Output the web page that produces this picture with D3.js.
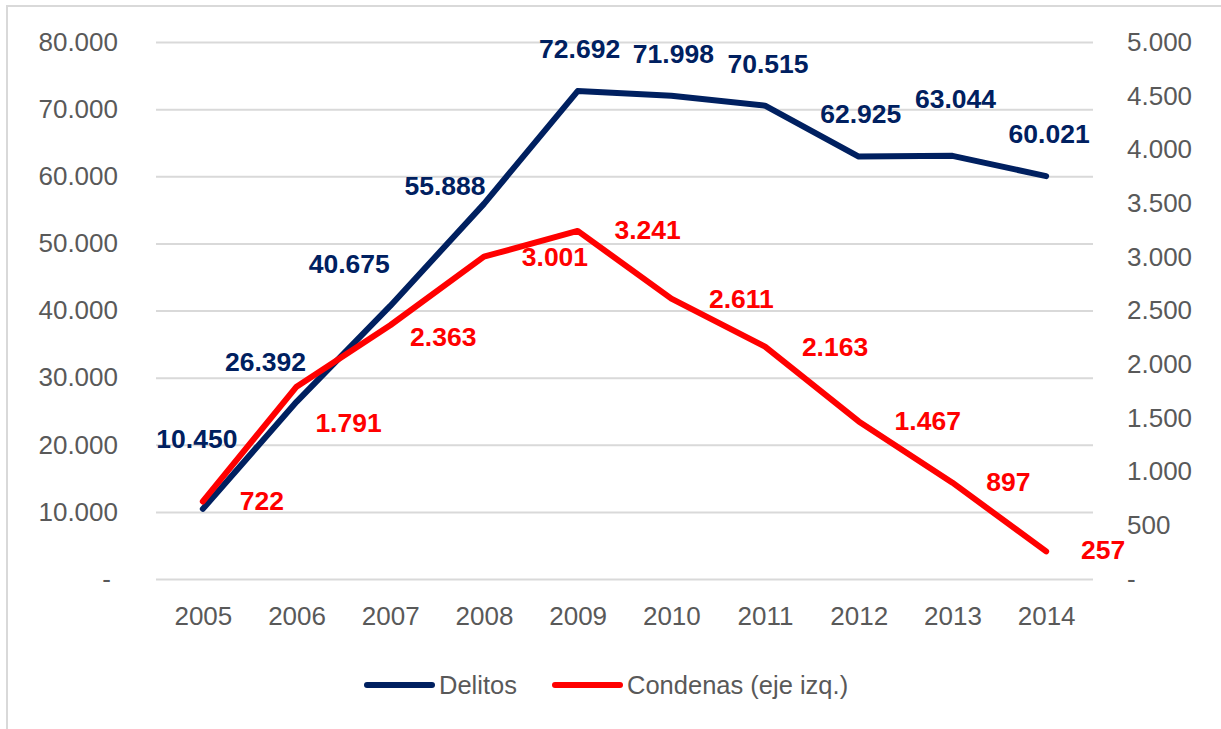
<!DOCTYPE html>
<html>
<head>
<meta charset="utf-8">
<script src="https://cdn.jsdelivr.net/npm/d3@7"></script>
<style>
  body { margin: 0; background: #fff; }
  text { font-family: "Liberation Sans", Arial, sans-serif; }
  .tick text { fill: #595959; font-size: 26px; }
  .grid line { stroke: #d9d9d9; stroke-width: 2px; }
  .value { font-size: 26.5px; font-weight: bold; }
</style>
</head>
<body>
<svg id="chart" width="1221" height="729"></svg>
<script>
// Delitos vs condenas, 2005-2014 (condenas on the right-hand axis)

var years = [ '2005', '2006', '2007', '2008', '2009', '2010', '2011', '2012', '2013', '2014' ];
var delitos = [ 10450, 26392, 40675, 55888, 72692, 71998, 70515, 62925, 63044, 60021 ];
var condenas = [ 722, 1791, 2363, 3001, 3241, 2611, 2163, 1467, 897, 257 ];
var seriesNames = [ 'Delitos', 'Condenas (eje izq.)' ];

// label placement relative to each point (dx, dy of text centre)
var delitosLabelOffset = [ [ -6, -70 ], [ -31, -40 ], [ -41, -42 ], [ -39, -18 ], [ 2, -42 ],
  [ 2, -42 ], [ 3, -42 ], [ 2, -43 ], [ 3, -57 ], [ 3, -42 ] ];
var condenasLabelOffset = [ [ 59, 0 ], [ 52, 36 ], [ 53, 12 ], [ 71, 0 ], [ 70, -1 ],
  [ 70, 0 ], [ 70, 0 ], [ 69, 0 ], [ 56, -1 ], [ 57, -1 ] ];

var navy = '#002060';
var red = '#ff0000';

var svg = d3.select( '#chart' );

var margin = { top: 42, right: 128, bottom: 150, left: 156 };
var width = 1221 - margin.left - margin.right;
var height = 729 - margin.top - margin.bottom;

// chart frame (only top and left edges are visible in the crop)
svg.append( 'rect' )
  .attr( 'x', 7 ).attr( 'y', 6 )
  .attr( 'width', 1240 ).attr( 'height', 760 )
  .attr( 'fill', 'none' )
  .attr( 'stroke', '#d9d9d9' )
  .attr( 'stroke-width', 2 );

var es = d3.formatLocale( { decimal: ',', thousands: '.', grouping: [ 3 ], currency: [ '', '' ] } );
var fmt = es.format( ',d' );
var tickFmt = function( d ) { return d === 0 ? '-' : fmt( d ); };

var x = d3.scalePoint().domain( years ).range( [ 0, width ] ).padding( 0.5 );
var yLeft = d3.scaleLinear().domain( [ 0, 80000 ] ).range( [ height, 0 ] );
var yRight = d3.scaleLinear().domain( [ 0, 5000 ] ).range( [ height, 0 ] );

var g = svg.append( 'g' )
  .attr( 'transform', 'translate(' + margin.left + ',' + margin.top + ')' );

// gridlines
g.append( 'g' )
  .attr( 'class', 'grid' )
  .call( d3.axisLeft( yLeft ).ticks( 8 ).tickSize( -width ).tickFormat( '' ) )
  .call( function( s ) { s.select( '.domain' ).remove(); } );

// left axis
var leftAxis = g.append( 'g' )
  .call( d3.axisLeft( yLeft ).ticks( 8 ).tickSize( 0 ).tickPadding( 38 ).tickFormat( tickFmt ) );
leftAxis.select( '.domain' ).remove();
leftAxis.selectAll( '.tick text' )
  .attr( 'dx', function( d ) { return d === 0 ? -7 : 0; } );

// right axis
var rightAxis = g.append( 'g' )
  .attr( 'transform', 'translate(' + width + ',0)' )
  .call( d3.axisRight( yRight ).ticks( 10 ).tickSize( 0 ).tickPadding( 34 ).tickFormat( tickFmt ) );
rightAxis.select( '.domain' ).remove();

// x axis
var xAxis = g.append( 'g' )
  .attr( 'transform', 'translate(0,' + height + ')' )
  .call( d3.axisBottom( x ).tickSize( 0 ).tickPadding( 28 ) );
xAxis.select( '.domain' ).remove();

// lines
var delitosLine = d3.line()
  .x( function( d, i ) { return x( years[ i ] ); } )
  .y( function( d ) { return yLeft( d ); } );

var condenasLine = d3.line()
  .x( function( d, i ) { return x( years[ i ] ); } )
  .y( function( d ) { return yRight( d ); } );

g.append( 'path' )
  .datum( delitos )
  .attr( 'd', delitosLine )
  .attr( 'fill', 'none' )
  .attr( 'stroke', navy )
  .attr( 'stroke-width', 6 )
  .attr( 'stroke-linejoin', 'round' )
  .attr( 'stroke-linecap', 'round' );

g.append( 'path' )
  .datum( condenas )
  .attr( 'd', condenasLine )
  .attr( 'fill', 'none' )
  .attr( 'stroke', red )
  .attr( 'stroke-width', 6 )
  .attr( 'stroke-linejoin', 'round' )
  .attr( 'stroke-linecap', 'round' );

// data labels
g.selectAll( '.delitos-label' )
  .data( delitos )
  .enter().append( 'text' )
  .attr( 'class', 'value delitos-label' )
  .attr( 'fill', navy )
  .attr( 'text-anchor', 'middle' )
  .attr( 'dominant-baseline', 'central' )
  .attr( 'x', function( d, i ) { return x( years[ i ] ) + delitosLabelOffset[ i ][ 0 ]; } )
  .attr( 'y', function( d, i ) { return yLeft( d ) + delitosLabelOffset[ i ][ 1 ]; } )
  .text( function( d ) { return fmt( d ); } );

g.selectAll( '.condenas-label' )
  .data( condenas )
  .enter().append( 'text' )
  .attr( 'class', 'value condenas-label' )
  .attr( 'fill', red )
  .attr( 'text-anchor', 'middle' )
  .attr( 'dominant-baseline', 'central' )
  .attr( 'x', function( d, i ) { return x( years[ i ] ) + condenasLabelOffset[ i ][ 0 ]; } )
  .attr( 'y', function( d, i ) { return yRight( d ) + condenasLabelOffset[ i ][ 1 ]; } )
  .text( function( d ) { return fmt( d ); } );

// legend
var legend = svg.append( 'g' ).attr( 'transform', 'translate(0,685)' );
var legendItems = [
  { name: seriesNames[ 0 ], color: navy, x: 367 },
  { name: seriesNames[ 1 ], color: red, x: 555 }
];
var item = legend.selectAll( 'g' )
  .data( legendItems )
  .enter().append( 'g' )
  .attr( 'transform', function( d ) { return 'translate(' + d.x + ',0)'; } );
item.append( 'line' )
  .attr( 'x1', 0 ).attr( 'x2', 65 )
  .attr( 'stroke', function( d ) { return d.color; } )
  .attr( 'stroke-width', 6 )
  .attr( 'stroke-linecap', 'round' );
item.append( 'text' )
  .attr( 'x', 72 )
  .attr( 'dominant-baseline', 'central' )
  .attr( 'fill', '#595959' )
  .style( 'font-size', '25.5px' )
  .text( function( d ) { return d.name; } );
</script>
</body>
</html>
